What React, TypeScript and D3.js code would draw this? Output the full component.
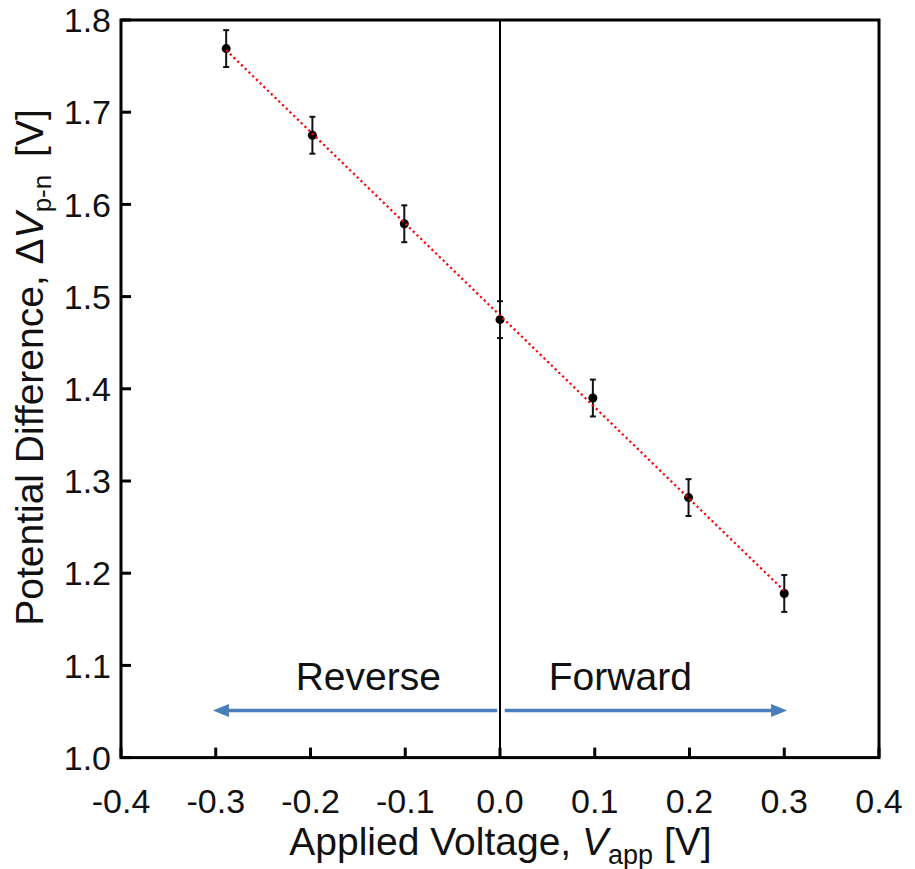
import React from "react";
import * as d3 from "d3";

const xValues = [-0.289, -0.198, -0.101, 0.0, 0.098, 0.199, 0.3];
const yValues = [1.769, 1.675, 1.579, 1.475, 1.39, 1.282, 1.178];
const yErrors = [0.02, 0.02, 0.02, 0.02, 0.02, 0.02, 0.02];
const xTicks = [-0.4, -0.3, -0.2, -0.1, 0.0, 0.1, 0.2, 0.3, 0.4];
const yTicks = [1.0, 1.1, 1.2, 1.3, 1.4, 1.5, 1.6, 1.7, 1.8];
const arrowSegments = [
  { from: -0.003, to: -0.303, y: 1.051 },
  { from: 0.005, to: 0.303, y: 1.051 },
];
const regionLabels = [
  { text: "Reverse", x: -0.139, y: 1.073 },
  { text: "Forward", x: 0.127, y: 1.073 },
];

const W = 915;
const H = 869;
const L = 121, R = 879, T = 20, B = 757.6;
const FONT = "'Liberation Sans', Arial, sans-serif";
const BLUE = "#4A7EBB";

export default function App() {
  const x = d3.scaleLinear().domain([-0.4, 0.4]).range([L, R]);
  const y = d3.scaleLinear().domain([1.0, 1.8]).range([B, T]);

  // least squares fit of data
  const n = xValues.length;
  const mx = d3.mean(xValues)!;
  const my = d3.mean(yValues)!;
  let sxy = 0, sxx = 0;
  for (let i = 0; i < n; i++) {
    sxy += (xValues[i] - mx) * (yValues[i] - my);
    sxx += (xValues[i] - mx) ** 2;
  }
  const slope = sxy / sxx;
  const icpt = my - slope * mx;
  const x0 = d3.min(xValues)!, x1 = d3.max(xValues)!;
  const fitLine = d3.line<number>().x((v) => x(v)).y((v) => y(icpt + slope * v));

  return (
    <svg width={W} height={H} style={{ position: "absolute", left: 0, top: 0, background: "#fff" }} fontFamily={FONT}>
      {/* vertical zero line */}
      <line x1={x(0)} x2={x(0)} y1={T} y2={B} stroke="#000" strokeWidth={2} />

      {/* arrows */}
      {arrowSegments.map((a, i) => {
        const dir = Math.sign(a.to - a.from);
        const tip = x(a.to);
        const yy = y(a.y);
        const head = 16;
        return (
          <g key={i}>
            <line x1={x(a.from)} x2={tip - dir * head + dir * 2} y1={yy} y2={yy} stroke={BLUE} strokeWidth={3.5} />
            <path d={`M${tip},${yy} L${tip - dir * head},${yy - 6.5} L${tip - dir * head},${yy + 6.5} Z`} fill={BLUE} />
          </g>
        );
      })}

      {regionLabels.map((r, i) => (
        <text key={i} x={x(r.x)} y={y(r.y)} fontSize={39} textAnchor="middle" fill="#111">
          {r.text}
        </text>
      ))}

      {/* error bars */}
      {xValues.map((xv, i) => (
        <g key={i} stroke="#111" strokeWidth={2}>
          <line x1={x(xv)} x2={x(xv)} y1={y(yValues[i] - yErrors[i])} y2={y(yValues[i] + yErrors[i])} />
          <line x1={x(xv) - 3} x2={x(xv) + 3} y1={y(yValues[i] - yErrors[i])} y2={y(yValues[i] - yErrors[i])} />
          <line x1={x(xv) - 3} x2={x(xv) + 3} y1={y(yValues[i] + yErrors[i])} y2={y(yValues[i] + yErrors[i])} />
        </g>
      ))}

      {/* points */}
      {xValues.map((xv, i) => (
        <circle key={i} cx={x(xv)} cy={y(yValues[i])} r={4.5} fill="#000" />
      ))}

      {/* fit line */}
      <path d={fitLine([x0, x1])!} fill="none" stroke="#ff0000" strokeWidth={2.2} strokeDasharray="2.2,3" />

      {/* frame */}
      <rect x={L} y={T} width={R - L} height={B - T} fill="none" stroke="#000" strokeWidth={3} />

      {/* x ticks */}
      {xTicks.map((t, i) => (
        <g key={i}>
          <line x1={x(t)} x2={x(t)} y1={B} y2={B - 10} stroke="#000" strokeWidth={3} />
          <text x={x(t)} y={813} fontSize={34} textAnchor="middle" fill="#111">
            {t.toFixed(1)}
          </text>
        </g>
      ))}
      {/* y ticks */}
      {yTicks.map((t, i) => (
        <g key={i}>
          <line x1={L} x2={L + 10} y1={y(t)} y2={y(t)} stroke="#000" strokeWidth={3} />
          <text x={111} y={y(t)} dy="0.36em" fontSize={34} textAnchor="end" fill="#111">
            {t.toFixed(1)}
          </text>
        </g>
      ))}

      {/* x title */}
      <text x={500.5} y={855} fontSize={39} textAnchor="middle" fill="#111">
        Applied Voltage,{" "}
        <tspan fontStyle="italic">V</tspan>
        <tspan fontSize={27} dy={9}>app</tspan>
        <tspan dy={-9}> [V]</tspan>
      </text>

      {/* y title */}
      <text transform={`translate(43, 367.5) rotate(-90)`} fontSize={39} textAnchor="middle" fill="#111">
        Potential Difference, Δ
        <tspan fontStyle="italic">V</tspan>
        <tspan fontSize={26} dy={8}>p-n</tspan>
        <tspan dy={-8} dx={7}> [V]</tspan>
      </text>
    </svg>
  );
}
